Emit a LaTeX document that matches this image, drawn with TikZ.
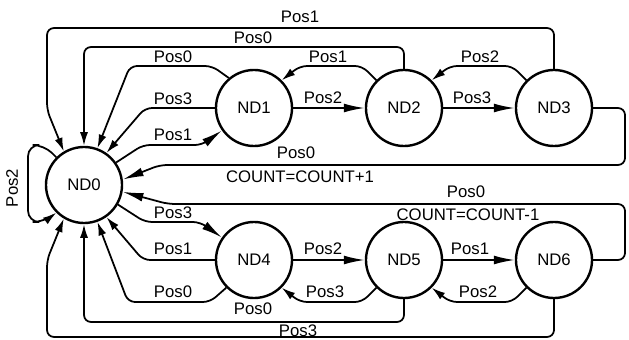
\documentclass[tikz,border=0pt]{standalone}
\usepackage{fontspec}
\setmainfont{Liberation Sans}
\usetikzlibrary{arrows.meta}

\tikzset{
  zustand/.style={circle, draw, line width=1.7pt, minimum size=1.9cm, inner sep=0pt},
  uebergang/.style={line width=1.25pt, rounded corners=5pt, -{Latex[length=3.4mm,width=2mm]}},
  gross/.style={-{Latex[length=5.2mm,width=2.2mm]}},
}

\begin{document}
\begin{tikzpicture}[x=0.025cm, y=-0.025cm, font=\fontsize{11.9}{13}\selectfont]
\useasboundingbox (0,0) rectangle (629,340);
% Zustaende:
\node[zustand] (ND0) at (84,185) {ND0};
\node[zustand] (ND1) at (254,108) {ND1}; % obere Reihe
\node[zustand] (ND2) at (404,108) {ND2};
\node[zustand] (ND3) at (554,108) {ND3};
\node[zustand] (ND4) at (254,260) {ND4}; % untere Reihe
\node[zustand] (ND5) at (404,260) {ND5};
\node[zustand] (ND6) at (554,260) {ND6};

% obere Kette:
\draw[uebergang, gross] (ND1) -- (ND2);
\draw[uebergang, gross] (ND2) -- (ND3);
\draw[uebergang] (ND2.135) -- (362,66) -- (300,66) -- (ND1.45);
\draw[uebergang] (ND3.135) -- (512,66) -- (450,66) -- (ND2.45);
% untere Kette:
\draw[uebergang, gross] (ND4) -- (ND5);
\draw[uebergang, gross] (ND5) -- (ND6);
\draw[uebergang] (ND5.-135) -- (362,302) -- (300,302) -- (ND4.-45);
\draw[uebergang] (ND6.-135) -- (512,302) -- (450,302) -- (ND5.-45);

% zurueck nach ND0, oben:
\draw[uebergang] (ND3.north) -- (554,28) -- (47,28) -- (47,110) -- (ND0.121);
\draw[uebergang] (ND2.north) -- (404,47) -- (84,47) -- (ND0.north);
\draw[uebergang] (ND1.130) -- (212,66) -- (130,66) -- (ND0.70);
\draw[uebergang] (ND1.west) -- (145,108) -- (ND0.55);
\draw[uebergang, gross] (ND0.35) -- (143,145) -- (202,145) -- (ND1.-145);
\draw[uebergang, gross] (ND3.east) -- (625,108) -- (625,165) -- (160,165) -- (ND0.8);
% zurueck nach ND0, unten:
\draw[uebergang, gross] (ND6.east) -- (625,260) -- (625,204) -- (168,204) -- (ND0.-10);
\draw[uebergang, gross] (ND0.-30) -- (145,222) -- (200,222) -- (ND4.145);
\draw[uebergang] (ND4.west) -- (143,260) -- (ND0.-55);
\draw[uebergang] (ND4.-135) -- (210,302) -- (128,302) -- (ND0.-70);
\draw[uebergang] (ND5.south) -- (404,322) -- (84,322) -- (ND0.south);
\draw[uebergang] (ND6.south) -- (554,337) -- (47,337) -- (47,260) -- (ND0.-121);
% Schleife an ND0:
\draw[uebergang, rounded corners=8pt] (ND0.135) -- (44,145) -- (28,145) -- (28,222) -- (44,222) -- (ND0.-135);

% Beschriftungen oben:
\node (t31) at (300,17) {Pos1};
\node (t20) at (253,38) {Pos0};
\node (t10a) at (173,57) {Pos0};
\node (t10b) at (173,99) {Pos3};
\node (t01) at (173,135) {Pos1};
\node (t21) at (328,57) {Pos1};
\node (t32) at (480,57) {Pos2};
\node (t12) at (323,98) {Pos2};
\node (t23) at (472,98) {Pos3};
\node (tinc) at (296,153) {Pos0};
\node (tincb) at (300,177) {COUNT=COUNT+1};
% Beschriftungen unten:
\node (tdec) at (466,192) {Pos0};
\node (tdecb) at (468,215) {COUNT=COUNT-1};
\node (t04) at (173,213) {Pos3};
\node (t40a) at (173,249) {Pos1};
\node (t40b) at (173,292) {Pos0};
\node (t50) at (253,309) {Pos0};
\node (t60) at (298,331) {Pos3};
\node (t45) at (323,249) {Pos2};
\node (t56) at (470,249) {Pos1};
\node (t54) at (325,292) {Pos3};
\node (t65) at (478,292) {Pos2};
\node[rotate=90] (t00) at (12,188) {Pos2};
\end{tikzpicture}
\end{document}
